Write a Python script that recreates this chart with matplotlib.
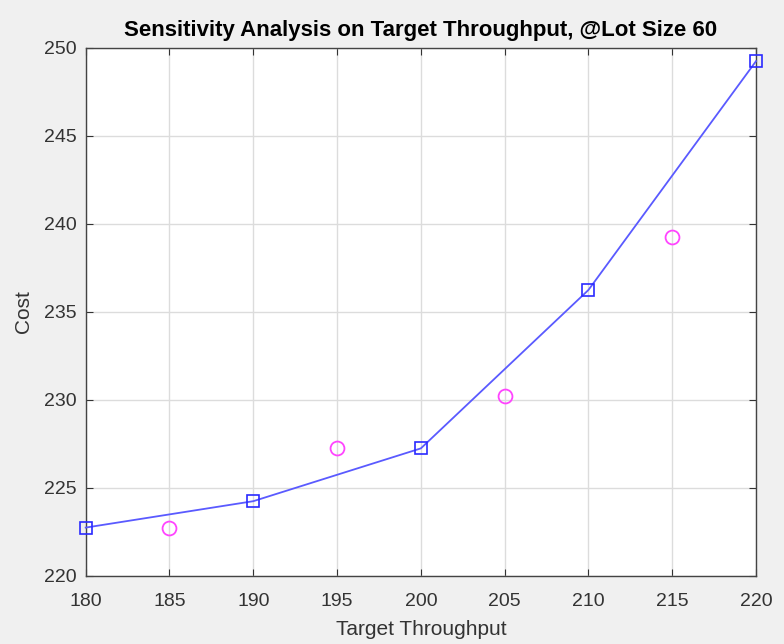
import matplotlib
matplotlib.use('Agg')
import matplotlib.pyplot as plt

# data
throughput_sq = [180, 190, 200, 210, 220]
cost_sq = [222.75, 224.25, 227.25, 236.25, 249.25]
throughput_o = [185, 195, 205, 215]
cost_o = [222.75, 227.25, 230.25, 239.25]

xticks = [180, 185, 190, 195, 200, 205, 210, 215, 220]
yticks = [220, 225, 230, 235, 240, 245, 250]

plt.rcParams['font.family'] = ['Liberation Sans', 'DejaVu Sans']

fig = plt.figure(figsize=(7.84, 6.44), dpi=100, facecolor='#f0f0f0')
ax = fig.add_axes([0.1093, 0.1056, 0.8550, 0.8199])

ax.plot(throughput_sq, cost_sq, '-', color='#5a5aff', lw=1.3, zorder=3, clip_on=False)
ax.plot(throughput_sq, cost_sq, 's', mfc='none', mec='#2a2aff', ms=9, mew=1.2, zorder=4, clip_on=False)
ax.plot(throughput_o, cost_o, 'o', mfc='none', mec='#ff44ff', ms=10, mew=1.3, zorder=4)

ax.set_xlim(180, 220)
ax.set_ylim(220, 250)
ax.set_xticks(xticks)
ax.set_yticks(yticks)
ax.grid(True, color='#dcdcdc', lw=1.0)
ax.set_axisbelow(True)
ax.tick_params(direction='in', top=True, right=True, labelsize=14, colors='#333333', length=5)
ax.tick_params(axis='x', pad=12.5)
ax.tick_params(axis='y', pad=6.5)
for s in ax.spines.values():
    s.set_color('#444444')
    s.set_linewidth(1.0)

ax.set_title('Sensitivity Analysis on Target Throughput, @Lot Size 60', fontsize=16, fontweight='bold', pad=8.5)
ax.set_xlabel('Target Throughput', fontsize=15, color='#333333', labelpad=7)
ax.set_ylabel('Cost', fontsize=15, color='#333333', labelpad=8)

fig.savefig('out.png', dpi=100, facecolor=fig.get_facecolor())
